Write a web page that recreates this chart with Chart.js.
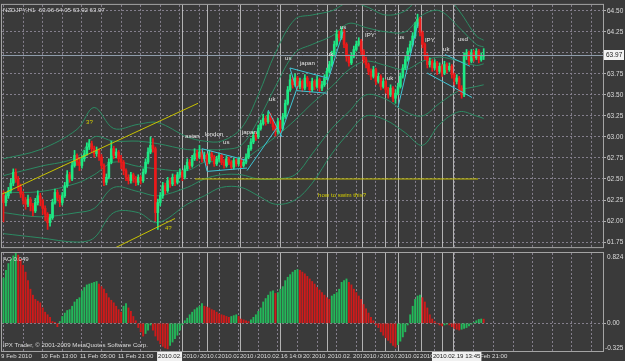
<!DOCTYPE html>
<html>
<head>
<meta charset="utf-8">
<script src="https://cdn.jsdelivr.net/npm/chart.js@4.4.0/dist/chart.umd.min.js"></script>
<style>
  html, body { margin: 0; padding: 0; background: #3a3a3a; }
  #wrap { position: relative; width: 625px; height: 361px; overflow: hidden; }
  #main { position: absolute; left: 0; top: 0; width: 625px; height: 252px; }
  #ao { position: absolute; left: 0; top: 252px; width: 625px; height: 109px; }
</style>
</head>
<body>
<div id="wrap">
  <canvas id="main" width="625" height="252"></canvas>
  <canvas id="ao" width="625" height="109"></canvas>
</div>
<script>
// NZDJPY H1 candles (bar 0 = leftmost candle)
const symbolName = 'NZDJPY,H1';

const opens = [62.31,62.22,62.30,62.36,62.45,62.58,62.50,62.40,62.32,62.25,
  62.20,62.26,62.18,62.12,62.22,62.30,62.24,62.15,62.08,61.98,
  62.04,62.22,62.34,62.28,62.22,62.30,62.42,62.55,62.50,62.66,
  62.78,62.70,62.66,62.74,62.80,62.88,62.92,62.86,62.80,62.84,
  62.76,62.66,62.46,62.52,62.70,62.86,62.78,62.82,62.74,62.70,
  62.60,62.52,62.48,62.55,62.50,62.46,62.52,62.48,62.58,62.70,
  62.82,62.90,62.86,62.10,62.22,62.30,62.42,62.36,62.48,62.44,
  62.52,62.46,62.55,62.58,62.52,62.62,62.70,62.66,62.74,62.80,
  62.76,62.82,62.74,62.78,62.70,62.80,62.76,62.68,62.74,62.78,
  62.70,62.66,62.74,62.70,62.64,62.72,62.68,62.74,62.66,62.70,
  62.76,62.86,62.94,63.02,63.00,63.10,63.16,63.22,63.18,63.26,
  63.20,63.12,63.06,63.18,63.10,63.24,63.40,63.56,63.68,63.62,
  63.70,63.60,63.66,63.58,63.70,63.64,63.56,63.66,63.60,63.68,
  63.58,63.62,63.70,63.78,63.86,63.98,64.10,64.22,64.18,64.26,
  64.10,63.95,63.88,63.96,64.04,64.10,64.14,64.02,63.92,63.86,
  63.78,63.72,63.80,63.66,63.72,63.60,63.66,63.56,63.50,63.58,
  63.46,63.52,63.60,63.72,63.82,63.92,64.02,64.10,64.20,64.32,
  64.40,64.24,64.10,63.96,63.86,63.90,63.82,63.88,63.78,63.84,
  63.76,63.86,63.80,63.84,63.74,63.66,63.70,63.58,63.50,63.96,
  64.00,63.90,64.00,63.94,64.02,63.92,63.96];

const highs = [62.36,62.34,62.40,62.50,62.62,62.62,62.53,62.44,62.35,62.28,
  62.31,62.28,62.21,62.27,62.36,62.33,62.26,62.18,62.10,62.08,
  62.26,62.38,62.37,62.31,62.34,62.46,62.60,62.58,62.70,62.84,
  62.80,62.74,62.78,62.84,62.93,62.97,62.95,62.89,62.88,62.86,
  62.79,62.68,62.56,62.74,62.95,62.89,62.86,62.84,62.78,62.72,
  62.62,62.55,62.58,62.57,62.53,62.55,62.54,62.62,62.74,62.87,
  63.00,62.98,62.88,62.26,62.34,62.46,62.45,62.52,62.51,62.56,
  62.55,62.58,62.62,62.60,62.66,62.74,62.73,62.78,62.86,62.84,
  62.90,62.85,62.82,62.80,62.84,62.83,62.78,62.77,62.81,62.80,
  62.73,62.77,62.76,62.72,62.75,62.74,62.76,62.75,62.73,62.80,
  62.90,62.98,63.06,63.05,63.14,63.20,63.27,63.25,63.30,63.28,
  63.22,63.15,63.22,63.20,63.28,63.44,63.60,63.74,63.71,63.75,
  63.72,63.70,63.68,63.74,63.72,63.66,63.70,63.68,63.72,63.70,
  63.66,63.74,63.82,63.90,64.02,64.14,64.27,64.26,64.31,64.28,
  64.12,63.98,64.00,64.08,64.14,64.18,64.16,64.04,63.95,63.88,
  63.81,63.84,63.82,63.76,63.74,63.70,63.68,63.59,63.62,63.60,
  63.56,63.64,63.76,63.86,63.96,64.06,64.14,64.24,64.36,64.46,
  64.42,64.26,64.12,63.99,63.94,63.92,63.92,63.90,63.88,63.86,
  63.90,63.88,63.88,63.86,63.76,63.74,63.72,63.61,64.00,64.04,
  64.02,64.04,64.03,64.05,64.04,64.00,64.05];

const lows = [61.99,62.18,62.27,62.33,62.42,62.46,62.36,62.28,62.20,62.14,
  62.17,62.12,62.06,62.10,62.19,62.18,62.08,62.00,61.90,61.94,
  62.02,62.20,62.24,62.17,62.19,62.28,62.40,62.46,62.48,62.64,
  62.66,62.60,62.63,62.71,62.78,62.85,62.82,62.76,62.77,62.72,
  62.62,62.42,62.43,62.50,62.68,62.74,62.75,62.70,62.62,62.55,
  62.48,62.44,62.45,62.46,62.42,62.43,62.44,62.46,62.56,62.68,
  62.80,62.82,62.00,61.90,62.18,62.27,62.32,62.34,62.40,62.42,
  62.42,62.44,62.52,62.48,62.50,62.60,62.62,62.64,62.72,62.72,
  62.74,62.70,62.71,62.66,62.68,62.72,62.65,62.66,62.71,62.67,
  62.63,62.64,62.67,62.61,62.62,62.65,62.66,62.63,62.64,62.68,
  62.74,62.84,62.92,62.96,62.98,63.08,63.14,63.14,63.16,63.16,
  63.08,63.01,63.04,63.05,63.08,63.22,63.38,63.54,63.58,63.60,
  63.56,63.57,63.54,63.56,63.60,63.52,63.54,63.56,63.58,63.54,
  63.55,63.60,63.68,63.76,63.84,63.96,64.08,64.14,64.16,64.06,
  63.90,63.84,63.86,63.94,64.02,64.08,63.98,63.88,63.82,63.74,
  63.68,63.70,63.62,63.64,63.56,63.58,63.52,63.46,63.48,63.42,
  63.40,63.50,63.58,63.70,63.80,63.90,64.00,64.08,64.18,64.30,
  64.20,64.06,63.92,63.82,63.83,63.78,63.80,63.74,63.76,63.72,
  63.74,63.76,63.78,63.70,63.62,63.63,63.54,63.46,63.48,63.92,
  63.86,63.88,63.90,63.92,63.88,63.90,63.92];

const closes = [62.22,62.30,62.36,62.45,62.58,62.50,62.40,62.32,62.25,62.20,
  62.26,62.18,62.12,62.22,62.30,62.24,62.15,62.08,61.98,62.04,
  62.22,62.34,62.28,62.22,62.30,62.42,62.55,62.50,62.66,62.78,
  62.70,62.66,62.74,62.80,62.88,62.92,62.86,62.80,62.84,62.76,
  62.66,62.46,62.52,62.70,62.86,62.78,62.82,62.74,62.70,62.60,
  62.52,62.48,62.55,62.50,62.46,62.52,62.48,62.58,62.70,62.82,
  62.90,62.86,62.10,62.22,62.30,62.42,62.36,62.48,62.44,62.52,
  62.46,62.55,62.58,62.52,62.62,62.70,62.66,62.74,62.80,62.76,
  62.82,62.74,62.78,62.70,62.80,62.76,62.68,62.74,62.78,62.70,
  62.66,62.74,62.70,62.64,62.72,62.68,62.74,62.66,62.70,62.76,
  62.86,62.94,63.02,63.00,63.10,63.16,63.22,63.18,63.26,63.20,
  63.12,63.06,63.18,63.10,63.24,63.40,63.56,63.68,63.62,63.70,
  63.60,63.66,63.58,63.70,63.64,63.56,63.66,63.60,63.68,63.58,
  63.62,63.70,63.78,63.86,63.98,64.10,64.22,64.18,64.26,64.10,
  63.95,63.88,63.96,64.04,64.10,64.14,64.02,63.92,63.86,63.78,
  63.72,63.80,63.66,63.72,63.60,63.66,63.56,63.50,63.58,63.46,
  63.52,63.60,63.72,63.82,63.92,64.02,64.10,64.20,64.32,64.40,
  64.24,64.10,63.96,63.86,63.90,63.82,63.88,63.78,63.84,63.76,
  63.86,63.80,63.84,63.74,63.66,63.70,63.58,63.50,63.96,64.00,
  63.90,64.00,63.94,64.02,63.92,63.96,63.97];

// Awesome Oscillator histogram, one value per candle
const aoValues = [0.53,0.62,0.70,0.75,0.79,0.82,0.80,0.75,0.68,0.60,
  0.50,0.40,0.33,0.28,0.26,0.24,0.18,0.13,0.10,0.07,
  0.02,0.01,-0.04,0.02,0.08,0.12,0.15,0.16,0.20,0.25,
  0.28,0.30,0.38,0.42,0.45,0.46,0.47,0.48,0.49,0.46,
  0.43,0.40,0.35,0.30,0.27,0.24,0.20,0.16,0.13,0.20,
  0.23,0.18,0.14,0.08,0.03,-0.05,-0.10,-0.15,-0.12,-0.08,
  -0.02,-0.08,-0.15,-0.20,-0.24,-0.27,-0.29,-0.30,-0.26,-0.22,
  -0.18,-0.14,-0.08,-0.02,0.03,0.06,0.10,0.13,0.16,0.18,
  0.20,0.23,0.20,0.19,0.18,0.16,0.15,0.13,0.11,0.10,
  0.09,0.08,0.07,0.08,0.09,0.10,0.08,0.05,0.04,0.03,
  0.02,0.04,0.07,0.10,0.14,0.18,0.25,0.29,0.33,0.37,
  0.38,0.35,0.36,0.40,0.43,0.50,0.54,0.57,0.60,0.62,
  0.63,0.62,0.60,0.58,0.55,0.52,0.49,0.46,0.42,0.39,
  0.36,0.33,0.30,0.28,0.32,0.34,0.36,0.40,0.48,0.50,
  0.52,0.48,0.45,0.40,0.36,0.32,0.28,0.22,0.17,0.12,
  0.07,0.03,-0.02,-0.05,-0.10,-0.14,-0.17,-0.20,-0.23,-0.26,
  -0.28,-0.25,-0.21,-0.16,-0.10,-0.02,0.10,0.20,0.28,0.32,
  0.33,0.30,0.25,0.18,0.10,0.05,0.02,0.00,-0.02,-0.03,
  -0.02,-0.01,-0.02,-0.04,-0.06,-0.07,-0.08,-0.07,-0.06,-0.05,
  -0.03,-0.01,0.01,0.03,0.045,0.05,0.049];
const aoMax = 0.824;
const aoMin = -0.325;

// envelope lines (two bollinger sets), read at a few bars
const bandBars = [0,15,30,37,45,55,63,75,82,89,97,104,111,119,126,134,141,148,156,164,171,178,186,193,196];
const bandUpper2 = [62.74,62.85,63.09,63.35,63.10,63.15,63.17,63.00,62.95,62.95,63.10,63.50,64.00,64.40,64.45,64.50,64.60,64.55,64.45,64.50,64.70,64.75,64.50,64.20,64.15];
const bandUpper1 = [62.54,62.65,62.76,63.00,62.95,62.95,62.92,62.85,62.85,62.85,62.90,63.20,63.60,64.00,64.10,64.20,64.35,64.30,64.25,64.25,64.45,64.50,64.30,64.10,64.07];
const bandMiddle = [62.34,62.35,62.45,62.55,62.70,62.65,62.62,62.60,62.70,62.70,62.72,62.85,63.00,63.20,63.40,63.60,63.80,63.90,63.85,63.80,63.90,63.95,63.90,63.85,63.87];
const bandLower1 = [62.10,62.05,62.10,62.15,62.40,62.35,62.30,62.40,62.50,62.55,62.55,62.50,62.50,62.55,62.80,63.10,63.30,63.50,63.45,63.30,63.25,63.40,63.55,63.60,63.62];
const bandLower2 = [61.85,61.80,61.75,61.80,62.10,62.10,61.98,62.20,62.30,62.40,62.40,62.30,62.20,62.25,62.45,62.80,63.05,63.25,63.20,63.05,62.90,63.15,63.30,63.25,63.22];

const bidPrice = 63.97;

// drawn objects: [bar1, price1, bar2, price2]
const yellowLines = [[-0.6,62.32,79.4,63.40],[45.5,61.68,70.0,62.03],[78.2,62.50,193.7,62.50]];
const cyanLines = [[81.0,62.86,99.4,62.72],[83.1,62.59,99.4,62.63],[81.0,62.86,83.1,62.59],
  [99.4,62.60,111.6,63.11],[108.0,63.32,113.7,63.00],[112.9,63.01,120.2,63.61],
  [116.9,63.82,132.4,63.70],[119.8,63.55,132.0,63.52],[116.9,63.82,119.8,63.55],
  [132.0,63.63,138.6,64.25],[161.0,63.35,169.2,64.36],[172.9,63.76,191.2,63.47],[180.2,63.98,190.4,63.84]];

const sessionNotes = ['asian','london','us','japan','uk','us','japan','uk','us','IPY','uk','us','IPY','uk','usd'];
const sessionNoteBars = [74.1,82.2,89.6,97.3,108.4,114.9,121.0,132.0,137.3,147.6,156.5,161.0,172.0,179.4,185.5];
const sessionNotePrices = [63.01,63.03,62.94,63.06,63.45,63.94,63.88,63.98,64.30,64.21,63.70,64.19,64.15,64.04,64.16];
const questionNotes = ['3?','4?','how to swim this?'];
const questionNoteBars = [33.7,65.9,128.4];
const questionNotePrices = [63.17,61.91,62.30];

// vertical line objects
const markerBars = [72.9,83.1,96.5,112.9,132.0,146.5,155.7,161.0,170.4,179.0,183.5];
const markerLabels = ['2010.02.15 04:00','2010.02.15 09:00','2010.02.15 16:00','2010.02.16 00:00','2010.02.16 08:00',
  '2010.02.16 14:00','2010.02.17 01:00','2010.02.17 04:00','2010.02.17 10:00','2010.02.17 20:00',
  '2010.02.18 00:00','2010.02.18 07:00','2010.02.18 14:00','2010.02.18 23:00','2010.02.19 13:45'];
const markerLabelBars = [63.1,73.3,80.2,87.6,96.5,103.5,122.2,125.9,132.4,142.7,146.7,153.7,161.0,170.0,175.3];
const timeLabels = ['9 Feb 2010','10 Feb 13:00','11 Feb 05:00','11 Feb 21:00','18 Feb 21:00'];
const timeLabelBars = [-1.0,15.3,31.2,46.7,191.0];

const xMin = -0.61, xMax = 244.7;
const bg = '#3a3a3a';
const gridColor = '#847f8c';
const frameColor = '#a4a4a4';
const textColor = '#dcdcdc';
const smallFont = '6.1px "Liberation Sans", Arial, sans-serif';
const upColor = '#1ee884', downColor = '#ec1a1a';

const candleColors = closes.map((c, i) => c >= opens[i] ? upColor : downColor);
const aoColors = aoValues.map((v, i) => (i === 0 || v > aoValues[i - 1]) ? '#23b85a' : '#d01a1a');

function fillBg(chart) {
  const ctx = chart.ctx;
  ctx.save();
  ctx.fillStyle = bg;
  ctx.fillRect(0, 0, chart.width, chart.height);
  ctx.restore();
}

function drawMarkers(chart) {
  const { ctx, chartArea: a, scales: { x } } = chart;
  ctx.save();
  ctx.strokeStyle = 'rgba(210,210,210,0.8)';
  ctx.lineWidth = 1;
  markerBars.forEach(b => {
    const px = Math.round(x.getPixelForValue(b)) + 0.5;
    ctx.beginPath();
    ctx.moveTo(px, a.top);
    ctx.lineTo(px, a.bottom);
    ctx.stroke();
  });
  ctx.restore();
}

function drawSegments(chart, segs, color) {
  const { ctx, chartArea: a, scales: { x, y } } = chart;
  ctx.save();
  ctx.beginPath();
  ctx.rect(a.left, a.top, a.right - a.left, a.bottom - a.top);
  ctx.clip();
  ctx.strokeStyle = color;
  ctx.lineWidth = 1;
  segs.forEach(s => {
    ctx.beginPath();
    ctx.moveTo(x.getPixelForValue(s[0]), y.getPixelForValue(s[1]));
    ctx.lineTo(x.getPixelForValue(s[2]), y.getPixelForValue(s[3]));
    ctx.stroke();
  });
  ctx.restore();
}

function drawFrame(chart) {
  const { ctx, chartArea: a } = chart;
  ctx.save();
  ctx.strokeStyle = frameColor;
  ctx.lineWidth = 1;
  ctx.strokeRect(a.left - 0.5, a.top - 0.5, a.right - a.left + 1, a.bottom - a.top + 1);
  ctx.restore();
}

const mainPlugin = {
  id: 'mainPane',
  beforeDraw: fillBg,
  beforeDatasetsDraw: drawMarkers,
  afterDatasetsDraw(chart) {
    const { ctx, chartArea: a, scales: { x, y } } = chart;
    const by = Math.round(y.getPixelForValue(bidPrice)) + 0.5;
    ctx.save();
    ctx.strokeStyle = '#8e9cab';
    ctx.beginPath();
    ctx.moveTo(a.left, by);
    ctx.lineTo(a.right, by);
    ctx.stroke();
    ctx.restore();

    drawSegments(chart, yellowLines, '#c8c200');
    drawSegments(chart, cyanLines, '#3fc4d4');

    ctx.save();
    ctx.font = smallFont;
    ctx.textBaseline = 'middle';
    ctx.textAlign = 'left';
    ctx.fillStyle = '#e6e6e6';
    sessionNotes.forEach((t, k) => ctx.fillText(t, x.getPixelForValue(sessionNoteBars[k]), y.getPixelForValue(sessionNotePrices[k])));
    ctx.fillStyle = '#d6cf00';
    questionNotes.forEach((t, k) => ctx.fillText(t, x.getPixelForValue(questionNoteBars[k]), y.getPixelForValue(questionNotePrices[k])));

    const n = closes.length - 1;
    ctx.fillStyle = textColor;
    ctx.fillText(symbolName + '  ' + opens[n].toFixed(2) + ' ' + highs[n].toFixed(2) + ' ' + lows[n].toFixed(2) + ' ' + closes[n].toFixed(2), a.left + 1, a.top + 5);
    ctx.restore();

    drawFrame(chart);

    // bid price tag on the axis
    ctx.save();
    ctx.fillStyle = '#f2f2f2';
    ctx.fillRect(a.right + 1, by - 5.5, 20, 10);
    ctx.font = '6.5px "Liberation Sans", Arial, sans-serif';
    ctx.textBaseline = 'middle';
    ctx.fillStyle = '#202020';
    ctx.fillText(bidPrice.toFixed(2), a.right + 3, by);
    ctx.restore();
  }
};

const aoPlugin = {
  id: 'aoPane',
  beforeDraw: fillBg,
  beforeDatasetsDraw: drawMarkers,
  afterDatasetsDraw(chart) {
    const { ctx, chartArea: a, scales: { x, y } } = chart;
    ctx.save();
    ctx.font = smallFont;
    ctx.textBaseline = 'middle';
    ctx.textAlign = 'left';
    ctx.fillStyle = textColor;
    ctx.fillText('AO ' + aoValues[aoValues.length - 1].toFixed(3), a.left + 1, a.top + 6);
    ctx.fillText('IPX Trader, \u00a9 2001-2009 MetaQuotes Software Corp.', a.left + 1, a.bottom - 6);
    ctx.font = '6.5px "Liberation Sans", Arial, sans-serif';
    ctx.fillText(aoMax.toFixed(3), a.right + 4, a.top + 4);
    ctx.fillText('0.00', a.right + 4, y.getPixelForValue(0));
    ctx.fillText(aoMin.toFixed(3), a.right + 2, a.bottom - 3);
    ctx.restore();

    drawFrame(chart);

    // time scale strip
    const ty = a.bottom + 5.5;
    ctx.save();
    ctx.font = smallFont;
    ctx.textBaseline = 'middle';
    ctx.textAlign = 'left';
    const put = (t, b, hi) => {
      const px = Math.max(1, x.getPixelForValue(b));
      const w = ctx.measureText(t).width;
      ctx.fillStyle = hi ? '#f0f0f0' : bg;
      ctx.fillRect(px - 1, a.bottom + 1, w + 2, 9);
      ctx.fillStyle = hi ? '#202020' : textColor;
      ctx.fillText(t, px, ty);
    };
    timeLabels.forEach((t, k) => put(t, timeLabelBars[k], false));
    markerLabels.forEach((t, k) => put(t, markerLabelBars[k], k === 0 || k === markerLabels.length - 1));
    ctx.restore();
  }
};

const xScale = {
  type: 'linear', min: xMin, max: xMax, offset: false,
  ticks: { display: false, stepSize: 8, maxTicksLimit: 1000, includeBounds: false, autoSkip: false },
  grid: { color: gridColor, drawTicks: false, offset: false },
  border: { display: false, dash: [2, 2] },
  afterFit: s => { s.height = 0; }
};

const tickFont = { family: '"Liberation Sans", Arial, sans-serif', size: 6.5 };

new Chart(document.getElementById('main'), {
  type: 'bar',
  data: {
    datasets: [
      { type: 'bar', data: closes.map((c, i) => ({ x: i, y: [opens[i], c] })), backgroundColor: candleColors,
        borderWidth: 0, barThickness: 2, minBarLength: 1, grouped: false, order: 0 },
      { type: 'bar', data: highs.map((h, i) => ({ x: i, y: [lows[i], h] })), backgroundColor: candleColors,
        borderWidth: 0, barThickness: 1, grouped: false, order: 1 },
      ...[bandUpper2, bandUpper1, bandMiddle, bandLower1, bandLower2].map(arr => ({
        type: 'line', data: bandBars.map((b, k) => ({ x: b, y: arr[k] })),
        borderColor: '#2c8a63', borderWidth: 1, pointRadius: 0, tension: 0.35, order: 5
      }))
    ]
  },
  options: {
    responsive: false, animation: false, devicePixelRatio: 1, events: [],
    layout: { padding: { left: 2, top: 2, right: 0, bottom: 1 } },
    plugins: { legend: { display: false }, tooltip: { enabled: false } },
    scales: {
      x: xScale,
      y: {
        position: 'right', min: 61.69, max: 64.57,
        ticks: { stepSize: 0.25, maxTicksLimit: 1000, includeBounds: false, color: textColor, font: tickFont, padding: 1,
          callback: v => v.toFixed(2) },
        grid: { color: gridColor, tickLength: 3, tickColor: '#b0b0b0' },
        border: { display: false, dash: [2, 2] },
        afterFit: s => { s.width = 22; }
      }
    }
  },
  plugins: [mainPlugin]
});

new Chart(document.getElementById('ao'), {
  type: 'bar',
  data: {
    datasets: [{ data: aoValues.map((v, i) => ({ x: i, y: v })), backgroundColor: aoColors, borderWidth: 0, barThickness: 1.2 }]
  },
  options: {
    responsive: false, animation: false, devicePixelRatio: 1, events: [],
    layout: { padding: { left: 2, top: 1, right: 0, bottom: 10 } },
    plugins: { legend: { display: false }, tooltip: { enabled: false } },
    scales: {
      x: xScale,
      y: {
        position: 'right', min: aoMin, max: aoMax,
        ticks: { display: false },
        afterBuildTicks: s => { s.ticks = [{ value: 0 }]; },
        grid: { color: gridColor, tickLength: 3, tickColor: '#b0b0b0' },
        border: { display: false, dash: [2, 2] },
        afterFit: s => { s.width = 22; }
      }
    }
  },
  plugins: [aoPlugin]
});
</script>
</body>
</html>
